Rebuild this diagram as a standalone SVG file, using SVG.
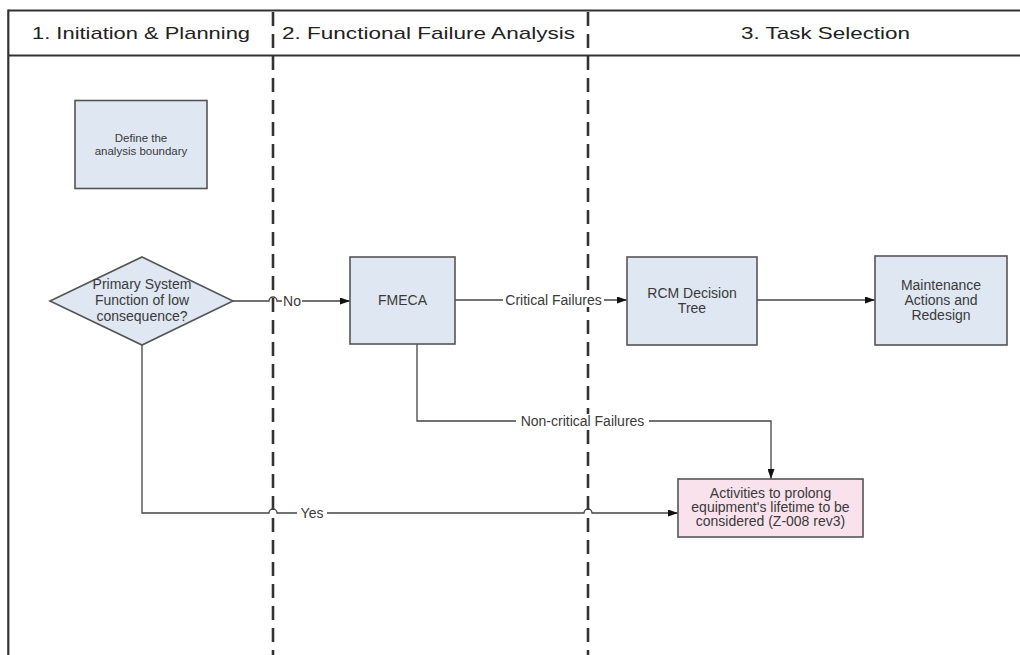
<svg xmlns="http://www.w3.org/2000/svg" width="1020" height="655" viewBox="0 0 1020 655">
  <defs>
    <marker id="arrow" viewBox="0 0 10 7" refX="10" refY="3.5" markerWidth="10" markerHeight="7" markerUnits="userSpaceOnUse" orient="auto">
      <path d="M0,0 L10,3.5 L0,7 z" fill="#111"/>
    </marker>
  </defs>
  <style>
    .frame { stroke: #333; stroke-width: 2.2; fill: none; }
    .lane { stroke: #333; stroke-width: 2.6; stroke-dasharray: 14 8; fill: none; }
    .hdr { font-family: "Liberation Sans", Arial, sans-serif; font-size: 17px; fill: #222; }
    .box { fill: #dfe7f3; stroke: #555; stroke-width: 1.6; }
    .pink { fill: #f9e2ec; stroke: #555; stroke-width: 1.6; }
    .txt { font-family: "Liberation Sans", Arial, sans-serif; font-size: 14px; fill: #3a3a3a; text-anchor: middle; }
    .small { font-size: 11.5px; }
    .conn { stroke: #444; stroke-width: 1.3; fill: none; }
    .lblbg { fill: #fff; }
    .lbl { font-family: "Liberation Sans", Arial, sans-serif; font-size: 14px; fill: #3a3a3a; text-anchor: middle; }
  </style>

  <rect width="1020" height="655" fill="#fff"/>

  <!-- swimlane frame and header -->
  <g id="swimlanes">
    <line class="frame" x1="8.3" y1="10.5" x2="1020" y2="10.5"/>
    <line class="frame" x1="8.3" y1="55.5" x2="1020" y2="55.5" stroke-width="2.6"/>
    <line class="frame" x1="8.3" y1="9.5" x2="8.3" y2="655"/>
    <line class="lane" x1="273" y1="12" x2="273" y2="655"/>
    <line class="lane" x1="588" y1="12" x2="588" y2="655"/>
    <text class="hdr" x="32" y="38.5" textLength="218" lengthAdjust="spacingAndGlyphs">1. Initiation &amp; Planning</text>
    <text class="hdr" x="282" y="38.5" textLength="293" lengthAdjust="spacingAndGlyphs">2. Functional Failure Analysis</text>
    <text class="hdr" x="741" y="38.5" textLength="169" lengthAdjust="spacingAndGlyphs">3. Task Selection</text>
  </g>

  <!-- connectors -->
  <g id="connectors">
    <path class="conn" d="M233,301 H269 a4,4 0 0 1 8,0 H350" marker-end="url(#arrow)"/>
    <path class="conn" d="M455,300 H627" marker-end="url(#arrow)"/>
    <path class="conn" d="M757,300 H875" marker-end="url(#arrow)"/>
    <path class="conn" d="M417,344 V421 H771 V479" marker-end="url(#arrow)"/>
    <path class="conn" d="M142,345 V513 H269 a4,4 0 0 1 8,0 H584 a4,4 0 0 1 8,0 H678" marker-end="url(#arrow)"/>

    <rect class="lblbg" x="282" y="294" width="20" height="14"/>
    <text class="lbl" x="292" y="306">No</text>
    <rect class="lblbg" x="503" y="293" width="101" height="14"/>
    <text class="lbl" x="553.5" y="305">Critical Failures</text>
    <rect class="lblbg" x="516" y="414" width="133" height="14"/>
    <text class="lbl" x="582.5" y="426">Non-critical Failures</text>
    <rect class="lblbg" x="297" y="506" width="30" height="14"/>
    <text class="lbl" x="312" y="518">Yes</text>
  </g>

  <!-- nodes -->
  <g id="define-boundary">
    <rect class="box" x="75" y="100.5" width="132" height="88"/>
    <text class="txt small" x="141" y="142">Define the</text>
    <text class="txt small" x="141" y="155">analysis boundary</text>
  </g>

  <g id="primary-function">
    <polygon class="box" points="142,257 233,301 142,345 50,301"/>
    <text class="txt" x="142" y="289">Primary System</text>
    <text class="txt" x="142" y="305">Function of low</text>
    <text class="txt" x="142" y="321">consequence?</text>
  </g>

  <g id="fmeca">
    <rect class="box" x="350" y="257" width="105" height="87"/>
    <text class="txt" x="402.5" y="305">FMECA</text>
  </g>

  <g id="rcm-tree">
    <rect class="box" x="627" y="257" width="130" height="88"/>
    <text class="txt" x="692" y="298">RCM Decision</text>
    <text class="txt" x="692" y="313">Tree</text>
  </g>

  <g id="maintenance">
    <rect class="box" x="875" y="256" width="132" height="89"/>
    <text class="txt" x="941" y="290">Maintenance</text>
    <text class="txt" x="941" y="305">Actions and</text>
    <text class="txt" x="941" y="320">Redesign</text>
  </g>

  <g id="prolong-lifetime">
    <rect class="pink" x="678" y="479" width="185" height="58"/>
    <text class="txt" x="770.5" y="498">Activities to prolong</text>
    <text class="txt" x="770.5" y="512">equipment's lifetime to be</text>
    <text class="txt" x="770.5" y="526">considered (Z-008 rev3)</text>
  </g>
</svg>
